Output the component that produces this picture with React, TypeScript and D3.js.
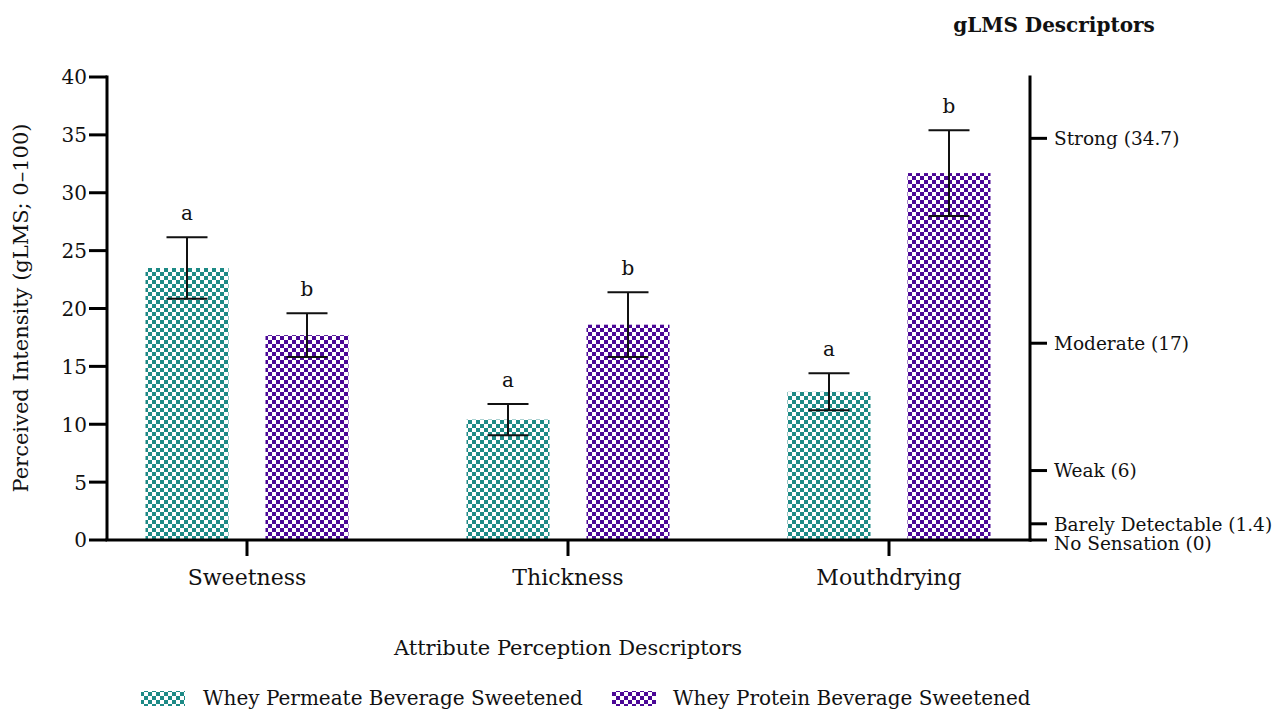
import React from "react";
import * as d3 from "d3";

const categories = ["Sweetness", "Thickness", "Mouthdrying"];
const seriesNames = ["Whey Permeate Beverage Sweetened", "Whey Protein Beverage Sweetened"];
const permeateMeans = [23.5, 10.4, 12.8];
const permeateErr = [2.65, 1.35, 1.6];
const proteinMeans = [17.7, 18.6, 31.7];
const proteinErr = [1.9, 2.8, 3.7];
const permeateLetters = ["a", "a", "a"];
const proteinLetters = ["b", "b", "b"];
const leftTicks = [0, 5, 10, 15, 20, 25, 30, 35, 40];
const glmsValues = [0, 1.4, 6, 17, 34.7];
const glmsLabels = ["No Sensation (0)", "Barely Detectable (1.4)", "Weak (6)", "Moderate (17)", "Strong (34.7)"];

const FONT = "'DejaVu Serif', 'Liberation Serif', serif";
const TEAL = "#1e8a86";
const PURPLE = "#4b0896";

export default function App() {
  const y = d3.scaleLinear().domain([0, 40]).range([540, 77]);
  const x = d3.scaleBand<string>().domain(categories).range([86.5, 1049.5]).paddingInner(0);
  const xInner = d3.scaleBand<string>().domain(seriesNames).range([0, 203]).paddingInner(0.3083);
  const left = 107;
  const right = 1030;

  const series = [
    { name: seriesNames[0], means: permeateMeans, errs: permeateErr, letters: permeateLetters, pat: "url(#patTeal)" },
    { name: seriesNames[1], means: proteinMeans, errs: proteinErr, letters: proteinLetters, pat: "url(#patPurple)" },
  ];

  return (
    <svg width={1280} height={717} style={{ position: "absolute", left: 0, top: 0, background: "#fff" }} fontFamily={FONT}>
      <defs>
        <pattern id="patTeal" width={8} height={8} patternUnits="userSpaceOnUse">
          <rect width={8} height={8} fill="#fff" />
          <rect width={4} height={4} fill={TEAL} />
          <rect x={4} y={4} width={4} height={4} fill={TEAL} />
        </pattern>
        <pattern id="patPurple" width={8} height={8} patternUnits="userSpaceOnUse">
          <rect width={8} height={8} fill="#fff" />
          <rect width={4} height={4} fill={PURPLE} />
          <rect x={4} y={4} width={4} height={4} fill={PURPLE} />
        </pattern>
      </defs>

      {/* bars */}
      {categories.map((c, i) =>
        series.map((s) => {
          const gx = (x(c) as number) + (x.bandwidth() - 203) / 2;
          const bx = gx + (xInner(s.name) as number);
          const bw = xInner.bandwidth();
          const cx = bx + bw / 2;
          const v = s.means[i];
          const e = s.errs[i];
          return (
            <g key={c + s.name}>
              <rect x={bx} y={y(v)} width={bw} height={y(0) - y(v)} fill={s.pat} />
              <line x1={cx} x2={cx} y1={y(v + e)} y2={y(v - e)} stroke="#111" strokeWidth={2} />
              <line x1={cx - 20.5} x2={cx + 20.5} y1={y(v + e)} y2={y(v + e)} stroke="#111" strokeWidth={2} />
              <line x1={cx - 20.5} x2={cx + 20.5} y1={y(v - e)} y2={y(v - e)} stroke="#111" strokeWidth={2} />
              <text x={cx} y={y(v + e) - 17} textAnchor="middle" fontSize={20} fill="#111">
                {s.letters[i]}
              </text>
            </g>
          );
        })
      )}

      {/* left axis */}
      <line x1={left} x2={left} y1={y(40) - 1.5} y2={y(0)} stroke="#000" strokeWidth={3} />
      {leftTicks.map((t) => (
        <g key={t}>
          <line x1={left - 18} x2={left} y1={y(t)} y2={y(t)} stroke="#000" strokeWidth={3} />
          <text x={left - 20} y={y(t)} dy="0.37em" textAnchor="end" fontSize={20} fill="#111">
            {t}
          </text>
        </g>
      ))}

      {/* bottom axis */}
      <line x1={left - 1.5} x2={right + 1.5} y1={y(0)} y2={y(0)} stroke="#000" strokeWidth={3} />
      {categories.map((c) => {
        const cx = (x(c) as number) + x.bandwidth() / 2;
        return (
          <g key={c}>
            <line x1={cx} x2={cx} y1={y(0)} y2={y(0) + 16} stroke="#000" strokeWidth={3} />
            <text x={cx} y={585} textAnchor="middle" fontSize={22} fill="#111">
              {c}
            </text>
          </g>
        );
      })}

      {/* right axis */}
      <line x1={right} x2={right} y1={y(40) - 1.5} y2={y(0) + 1.5} stroke="#000" strokeWidth={3} />
      {glmsValues.map((v, i) => (
        <g key={v}>
          <line x1={right} x2={right + 17} y1={y(v)} y2={y(v)} stroke="#000" strokeWidth={3} />
          <text x={right + 24} y={y(v) + (v === 0 ? 3 : 0)} dy="0.37em" fontSize={18.5} fill="#111">
            {glmsLabels[i]}
          </text>
        </g>
      ))}
      <text x={1054} y={32} textAnchor="middle" fontSize={20} fontWeight="bold" fill="#111">
        gLMS Descriptors
      </text>

      {/* axis titles */}
      <text transform="translate(28,308) rotate(-90)" textAnchor="middle" fontSize={21} fill="#111">
        Perceived Intensity (gLMS; 0–100)
      </text>
      <text x={568} y={655} textAnchor="middle" fontSize={21} fill="#111">
        Attribute Perception Descriptors
      </text>

      {/* legend */}
      <rect x={141} y={691} width={44} height={15} fill="url(#patTeal)" />
      <text x={203} y={705} fontSize={20} fill="#111">{seriesNames[0]}</text>
      <rect x={612} y={691} width={44} height={15} fill="url(#patPurple)" />
      <text x={673} y={705} fontSize={20} fill="#111">{seriesNames[1]}</text>
    </svg>
  );
}
